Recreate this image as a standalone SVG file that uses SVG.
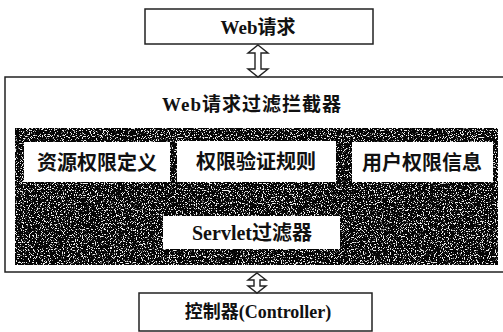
<svg xmlns="http://www.w3.org/2000/svg" width="503" height="332" viewBox="0 0 503 332">
<defs>
<style>
.box{fill:#fff;stroke:#222;stroke-width:1.5}
.wb{fill:#fff;stroke:none}
.t{font-family:"Liberation Serif","Noto Sans CJK SC",serif;font-weight:bold;fill:#111;text-anchor:middle;dominant-baseline:central}
.arr{fill:#fff;stroke:#222;stroke-width:1.4;stroke-linejoin:miter}
</style>
<filter id="noise" x="0" y="0" width="100%" height="100%">
<feTurbulence type="fractalNoise" baseFrequency="0.85" numOctaves="2" seed="3" result="n"/>
<feColorMatrix in="n" type="matrix" values="0 0 0 0 0.85  0 0 0 0 0.85  0 0 0 0 0.85  0 0 0 -13 5.6" result="s"/>
<feComposite in="s" in2="SourceGraphic" operator="in"/>
</filter>
</defs>
<g id="web-request">
<rect class="box" x="145" y="9" width="228" height="35"/>
<text class="t" x="258" y="27" font-size="19">Web请求</text>
</g>
<g id="filter-interceptor">
<rect class="box" x="5" y="77" width="502" height="195"/>
<text class="t" x="252" y="104" font-size="19" letter-spacing="1">Web请求过滤拦截器</text>
<rect x="15" y="128" width="483" height="137" fill="#050505"/>
<rect x="15" y="128" width="483" height="137" fill="#000" filter="url(#noise)"/>
</g>
<g id="resource-permission">
<rect class="wb" x="24" y="142" width="146" height="40"/>
<text class="t" x="97" y="163" font-size="20">资源权限定义</text>
</g>
<g id="permission-rules">
<rect class="wb" x="177" y="141" width="159" height="41"/>
<text class="t" x="256" y="162" font-size="20">权限验证规则</text>
</g>
<g id="user-permission">
<rect class="wb" x="352" y="142" width="141" height="40"/>
<text class="t" x="422" y="163" font-size="20">用户权限信息</text>
</g>
<g id="servlet-filter">
<rect class="wb" x="163" y="216" width="177" height="33"/>
<text class="t" x="252" y="233" font-size="20">Servlet过滤器</text>
</g>
<g id="controller">
<rect class="box" x="139" y="293" width="233" height="38"/>
<text class="t" x="258" y="312" font-size="18">控制器(Controller)</text>
</g>
<g id="connectors">
<polygon class="arr" points="258,45 268,53 261,53 261,69 268,69 258,77 248,69 255,69 255,53 248,53"/>
<polygon class="arr" points="257,273 266,280 260,280 260,286 266,286 257,293 248,286 254,286 254,280 248,280"/>
</g>
</svg>
